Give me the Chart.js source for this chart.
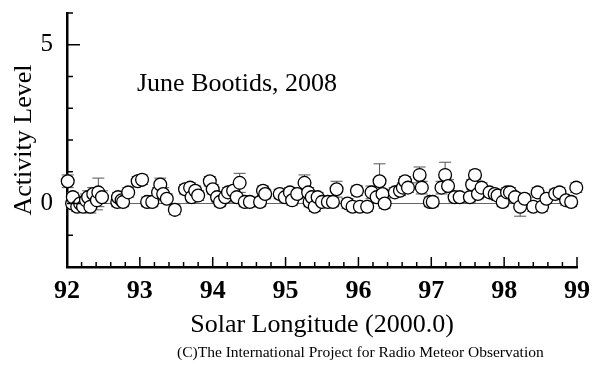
<!DOCTYPE html>
<html>
<head>
<meta charset="utf-8">
<script src="https://cdn.jsdelivr.net/npm/chart.js@4.4.1/dist/chart.umd.min.js"></script>
<style>
  html,body{margin:0;padding:0;background:#fff}
  canvas{display:block}
</style>
</head>
<body>
<canvas id="chart" width="599" height="369"></canvas>
<script>
// solar longitude (2000.0) of each observation
const lon=[92.01,92.07,92.08,92.14,92.18,92.22,92.26,92.29,92.32,92.36,92.41,92.43,92.48,
  92.69,92.70,92.75,92.77,92.84,92.97,93.03,93.10,93.17,93.25,93.28,93.32,93.37,93.48,
  93.62,93.69,93.71,93.76,93.80,93.96,94.00,94.06,94.10,94.17,94.21,94.28,94.33,94.37,
  94.44,94.51,94.65,94.69,94.72,94.92,94.99,95.06,95.09,95.16,95.26,95.31,95.33,95.36,
  95.40,95.44,95.50,95.58,95.65,95.70,95.85,95.92,95.98,96.02,96.12,96.18,96.25,96.29,
  96.33,96.36,96.50,96.57,96.61,96.64,96.68,96.84,96.87,96.98,97.02,97.14,97.19,97.23,
  97.32,97.39,97.53,97.56,97.60,97.64,97.69,97.80,97.87,97.91,97.98,98.04,98.08,98.15,
  98.22,98.28,98.40,98.46,98.52,98.58,98.70,98.76,98.85,98.92,98.99];
// activity level
const act=[0.70,0.00,0.20,-0.10,0.00,-0.10,0.10,0.20,-0.10,0.30,0.10,0.35,0.20,
  0.05,0.20,0.10,0.05,0.35,0.70,0.75,0.05,0.05,0.35,0.60,0.30,0.15,-0.20,
  0.45,0.50,0.20,0.40,0.25,0.70,0.45,0.20,0.05,0.20,0.35,0.40,0.20,0.65,
  0.05,0.05,0.05,0.40,0.30,0.30,0.20,0.35,0.10,0.30,0.65,0.35,0.05,0.20,
  -0.10,0.20,0.05,0.05,0.05,0.45,0.00,-0.10,0.40,-0.10,-0.10,0.35,0.20,0.70,
  0.30,0.00,0.35,0.40,0.50,0.70,0.50,0.90,0.50,0.05,0.05,0.50,0.90,0.55,
  0.20,0.20,0.20,0.60,0.90,0.30,0.50,0.35,0.30,0.25,0.05,0.35,0.35,0.20,
  -0.10,0.15,-0.10,0.35,-0.10,0.15,0.30,0.35,0.10,0.05,0.50];
// error (half height of the bar)
const err=[0.20,0.15,0.15,0.15,0.20,0.15,0.20,0.20,0.20,0.20,0.30,0.45,0.20,
  0.15,0.15,0.15,0.15,0.15,0.15,0.15,0.15,0.15,0.15,0.20,0.20,0.15,0.15,
  0.15,0.15,0.15,0.15,0.15,0.15,0.15,0.15,0.15,0.15,0.15,0.15,0.15,0.30,
  0.15,0.15,0.15,0.15,0.15,0.15,0.15,0.15,0.15,0.15,0.25,0.15,0.15,0.15,
  0.15,0.15,0.15,0.15,0.15,0.25,0.15,0.15,0.15,0.15,0.15,0.20,0.15,0.55,
  0.15,0.15,0.15,0.15,0.15,0.15,0.15,0.25,0.20,0.15,0.15,0.20,0.40,0.20,
  0.15,0.15,0.15,0.15,0.15,0.15,0.15,0.15,0.15,0.15,0.15,0.15,0.15,0.15,
  0.30,0.15,0.15,0.15,0.15,0.15,0.15,0.15,0.15,0.15,0.15];
const xTickLabels=[92,93,94,95,96,97,98,99];
const yTickLabels=[0,5];

const serif='"Liberation Serif","Times New Roman",serif';

// error bars + zero line, under the circles
const errorBars={
  id:'errorBars',
  beforeDatasetsDraw(chart){
    const {ctx,chartArea,scales:{x,y}}=chart;
    ctx.save();
    ctx.strokeStyle='#666';
    ctx.lineWidth=1;
    const y0=y.getPixelForValue(0);
    ctx.beginPath();ctx.moveTo(chartArea.left,y0);ctx.lineTo(chartArea.right,y0);ctx.stroke();
    ctx.strokeStyle='#555';
    lon.forEach((l,i)=>{
      const px=x.getPixelForValue(l);
      const top=y.getPixelForValue(act[i]+err[i]);
      const bot=y.getPixelForValue(act[i]-err[i]);
      ctx.beginPath();
      ctx.moveTo(px,top);ctx.lineTo(px,bot);
      ctx.moveTo(px-6,top);ctx.lineTo(px+6,top);
      ctx.moveTo(px-6,bot);ctx.lineTo(px+6,bot);
      ctx.stroke();
    });
    ctx.restore();
  }
};

// inward ticks, title inside the plot, copyright line
const decor={
  id:'decor',
  afterDraw(chart){
    const {ctx,chartArea,scales:{x,y}}=chart;
    ctx.save();
    ctx.strokeStyle='#000';
    ctx.lineWidth=1.5;
    for(let i=0;i<=35;i++){
      const v=92+i*0.2, px=x.getPixelForValue(v);
      const len=(i%5===0)?10:5;
      ctx.beginPath();ctx.moveTo(px,chartArea.bottom);ctx.lineTo(px,chartArea.bottom-len);ctx.stroke();
    }
    for(let v=-2;v<=6;v++){
      const py=y.getPixelForValue(v);
      const len=(v%5===0)?13:6;
      ctx.beginPath();ctx.moveTo(chartArea.left,py);ctx.lineTo(chartArea.left+len,py);ctx.stroke();
    }
    ctx.fillStyle='#000';
    ctx.font='26px '+serif;
    ctx.textBaseline='alphabetic';
    ctx.fillText('June Bootids, 2008',137,91);
    ctx.font='15.5px '+serif;
    ctx.fillText('(C)The International Project for Radio Meteor Observation',177,357);
    ctx.restore();
  }
};

new Chart(document.getElementById('chart'),{
  type:'scatter',
  data:{datasets:[{
    data:lon.map((l,i)=>({x:l,y:act[i]})),
    pointRadius:6.4,
    pointBackgroundColor:'#fff',
    pointBorderColor:'#000',
    pointBorderWidth:1.3,
    clip:false
  }]},
  options:{
    responsive:false,
    animation:false,
    events:[],
    layout:{padding:{top:13,right:22,left:0,bottom:0}},
    plugins:{legend:{display:false},tooltip:{enabled:false}},
    scales:{
      x:{
        type:'linear',min:92,max:99,
        afterBuildTicks:s=>{s.ticks=xTickLabels.map(v=>({value:v}));},
        afterFit:s=>{s.height=102;s.paddingLeft=0;s.paddingRight=0;},
        grid:{display:false,drawTicks:false},
        border:{display:true,color:'#000',width:2.5},
        ticks:{color:'#000',padding:9,font:{family:serif,size:26,weight:'bold'}},
        title:{display:true,text:'Solar Longitude (2000.0)',color:'#000',
          font:{family:serif,size:26},padding:{top:2,bottom:28}}
      },
      y:{
        min:-2,max:6,
        afterBuildTicks:s=>{s.ticks=yTickLabels.map(v=>({value:v}));},
        afterFit:s=>{s.width=67;s.paddingTop=0;s.paddingBottom=0;},
        grid:{display:false,drawTicks:false},
        border:{display:true,color:'#000',width:2.5},
        ticks:{color:'#000',padding:14,font:{family:serif,size:25}},
        title:{display:true,text:'Activity Level',color:'#000',
          font:{family:serif,size:26},padding:{top:9,bottom:0}}
      }
    }
  },
  plugins:[errorBars,decor]
});
</script>
</body>
</html>
